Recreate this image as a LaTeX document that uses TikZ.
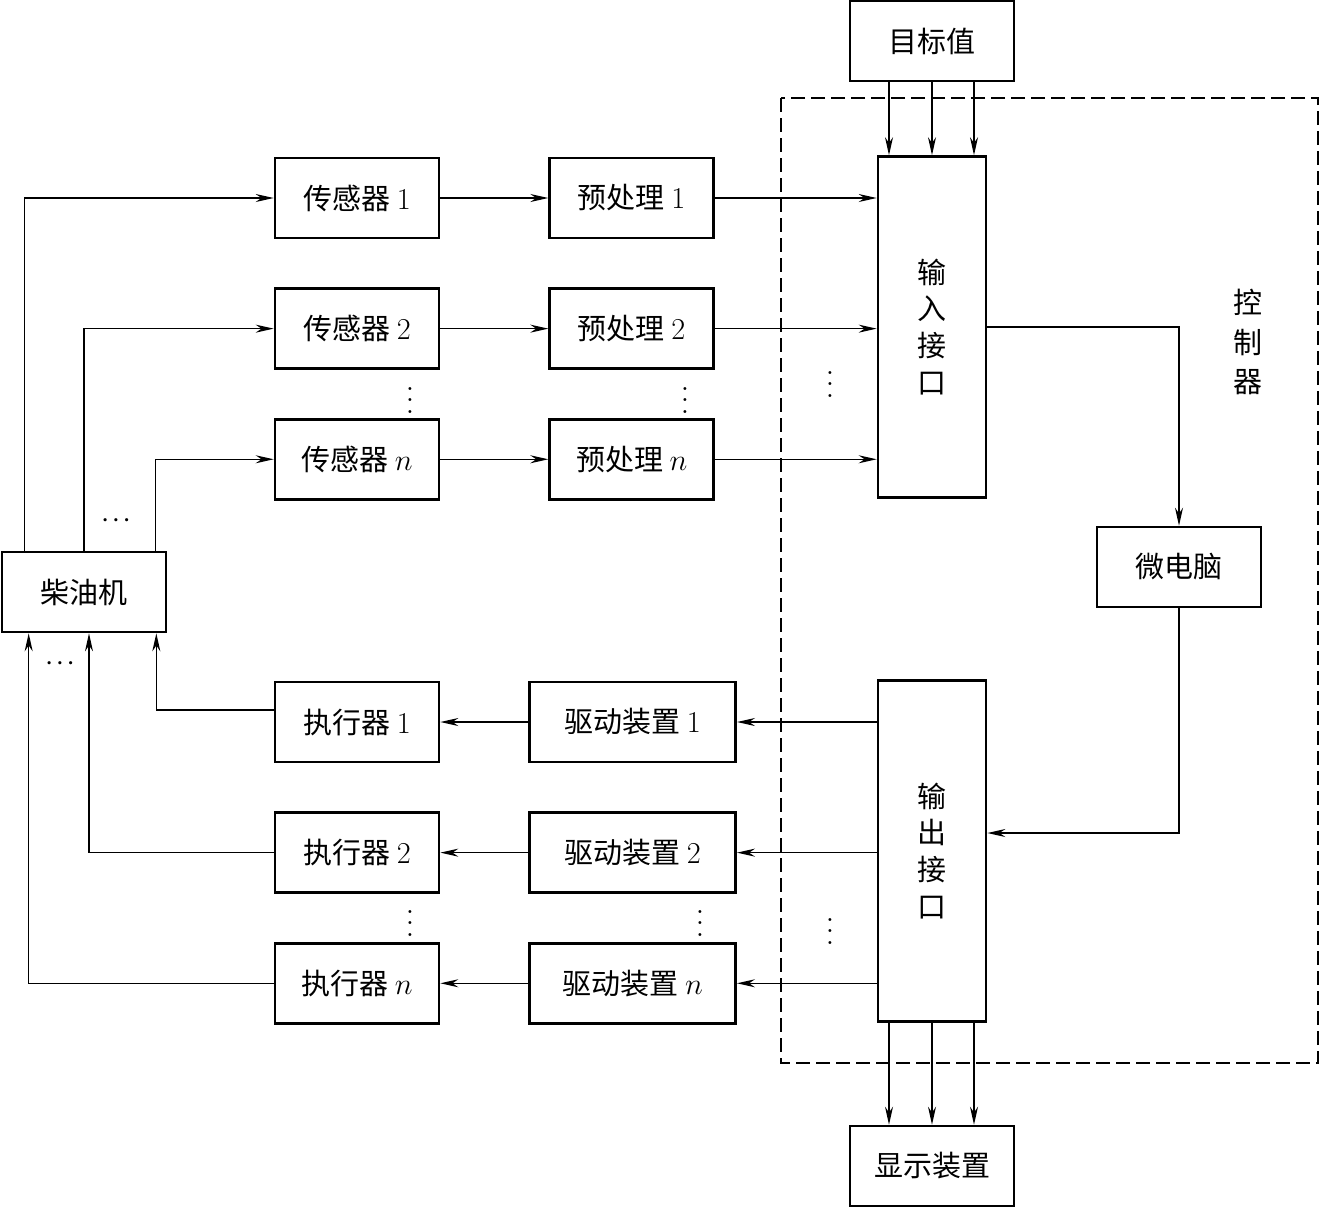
\documentclass[tikz,border=0pt]{standalone}
\usepackage{fontspec}
\newfontfamily\cjk{Noto Sans CJK SC}
\usetikzlibrary{positioning,arrows.meta,calc}
\newcommand{\vdt}{\scalebox{1.6}{$\vdots$}}

\begin{document}
\begin{tikzpicture}[
  node distance=9.6mm and 21.6mm,
  blk/.style={draw,line width=1.5pt,minimum width=32.8mm,minimum height=16mm,inner sep=0pt,font=\cjk\fontsize{16.5}{21}\selectfont},
  drv/.style={blk,minimum width=41.2mm},
  port/.style={blk,minimum width=21.6mm,minimum height=68.2mm,align=center},
  dts/.style={inner sep=0pt},
  hdts/.style={inner sep=0pt,font=\fontsize{13}{13}\selectfont\boldmath},
  ar/.style={-{Stealth[length=3.6mm,width=1.6mm]},line width=0.75pt}]
\useasboundingbox (0,0) rectangle (26.38,-24.18);
% ---- controller frame ----
\draw[dash pattern=on 2.8mm off 1.2mm,line width=0.75pt] (15.62,-1.96) rectangle (26.36,-21.26);
\node[font=\cjk\fontsize{16.5}{22.5}\selectfont,align=center] (ctl) at (24.96,-6.84) {控\\制\\器};
% ---- sensors and preprocessing ----
\node[blk] (s1) at (7.14,-3.96) {传感器 $1$};
\node[blk,below=of s1] (s2) {传感器 $2$};
\node[blk,below=of s2] (sn) {传感器 $n$};
\node[blk,right=of s1] (p1) {预处理 $1$};
\node[blk,right=of s2] (p2) {预处理 $2$};
\node[blk,right=of sn] (pn) {预处理 $n$};
% ---- engine ----
\node[blk] (eng) at (1.68,-11.84) {柴油机};
% ---- actuators and drives ----
\node[blk] (e1) at (7.14,-14.44) {执行器 $1$};
\node[blk,below=of e1] (e2) {执行器 $2$};
\node[blk,below=of e2] (en) {执行器 $n$};
\node[drv,right=17.6mm of e1] (d1) {驱动装置 $1$};
\node[drv,right=17.6mm of e2] (d2) {驱动装置 $2$};
\node[drv,right=17.6mm of en] (dn) {驱动装置 $n$};
% ---- controller parts ----
\node[port] (in) at (18.64,-6.54) {输\\入\\接\\口};
\node[port] (out) at (18.64,-17.02) {输\\出\\接\\口};
\node[blk] (mc) at (23.58,-11.34) {微电脑};
\node[blk] (tgt) at (18.64,-0.82) {目标值};
\node[blk] (disp) at (18.64,-23.32) {显示装置};
% ---- dots ----
\node[dts] (vs) at (8.2,-7.84) {\vdt};
\node[dts] (vp) at (13.7,-7.84) {\vdt};
\node[dts] (vi) at (16.6,-7.52) {\vdt};
\node[dts] (ve) at (8.2,-18.3) {\vdt};
\node[dts] (vd) at (14.0,-18.3) {\vdt};
\node[dts] (vo) at (16.6,-18.46) {\vdt};
\node[hdts] (hu) at (2.32,-10.4) {$\cdots$};
\node[hdts] (hl) at (1.2,-13.26) {$\cdots$};
% ---- connectors ----
\draw[ar] ([xshift=4.8mm]eng.north west) |- (s1);
\draw[ar] (eng.north) |- (s2);
\draw[ar] ([xshift=-2.4mm]eng.north east) |- (sn);
\draw[ar] (s1) -- (p1); \draw[ar] (s2) -- (p2); \draw[ar] (sn) -- (pn);
\draw[ar] (p1) -- (p1 -| in.west);
\draw[ar] (p2) -- (p2 -| in.west);
\draw[ar] (pn) -- (pn -| in.west);
\foreach \dx in {-0.86,0,0.84}{
  \draw[ar] ([xshift=\dx cm]tgt.south) -- ([xshift=\dx cm]in.north);
  \draw[ar] ([xshift=\dx cm]out.south) -- ([xshift=\dx cm]disp.north);
}
\draw[ar] (in.east) -| (mc.north);
\draw[ar] (mc.south) |- ([yshift=3.6mm]out.east);
\draw[ar] (d1 -| out.west) -- (d1);
\draw[ar] (d2 -| out.west) -- (d2);
\draw[ar] (dn -| out.west) -- (dn);
\draw[ar] (d1) -- (e1); \draw[ar] (d2) -- (e2); \draw[ar] (dn) -- (en);
\draw[ar] ([yshift=2.4mm]e1.west) -| ([xshift=-2.2mm]eng.south east);
\draw[ar] (e2.west) -| ([xshift=1mm]eng.south);
\draw[ar] (en.west) -| ([xshift=5.6mm]eng.south west);
\end{tikzpicture}
\end{document}
